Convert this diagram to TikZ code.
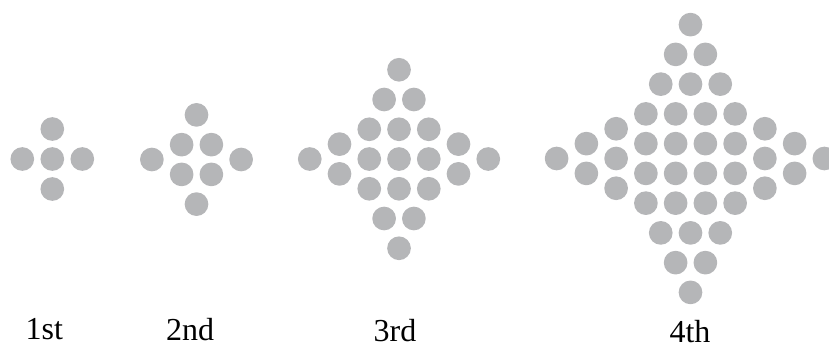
\documentclass[tikz,border=0pt]{standalone}
\usepackage{fontspec}
\setmainfont{Liberation Serif}
\usepackage{tikz}
\definecolor{dotgray}{RGB}{181,182,184}
\def\dotgap{29.75}
% #1 size of the middle square, #2 x, #3 y of its centre, #4 name prefix
\newcommand{\dotfig}[4]{%
  \foreach \i in {1,...,#1}{\foreach \j in {1,...,#1}{
    \node[dot] (#4-\i-\j) at ({#2+(\i-(#1+1)/2)*\dotgap},{#3+(\j-(#1+1)/2)*\dotgap}) {};}}
  \pgfmathtruncatemacro\lastrow{#1-1}
  \foreach \m in {1,...,\lastrow}{
    \pgfmathtruncatemacro\cnt{#1-\m}
    \foreach \k in {1,...,\cnt}{
      \pgfmathsetmacro\al{(\k-(\cnt+1)/2)*\dotgap}
      \pgfmathsetmacro\ou{((#1-1)/2+\m)*\dotgap}
      \node[dot] (#4-t-\m-\k) at ({#2+\al},{#3-\ou}) {};
      \node[dot] (#4-b-\m-\k) at ({#2+\al},{#3+\ou}) {};
      \node[dot] (#4-l-\m-\k) at ({#2-\ou},{#3+\al}) {};
      \node[dot] (#4-r-\m-\k) at ({#2+\ou},{#3+\al}) {};}}}

\begin{document}
\begin{tikzpicture}[x=1pt,y=-1pt,dot/.style={circle,fill=dotgray,minimum size=23.7pt,inner sep=0pt},
  lbl/.style={anchor=base,inner sep=0pt,font=\fontsize{32}{36}\selectfont}]
\useasboundingbox (0,0) rectangle (829,349);
\clip (0,0) rectangle (829,349);
% first
\node[dot] (one) at (52.3,159) {};
\node[dot] (one-l) at (22.3,159) {};
\node[dot] (one-r) at (82.3,159) {};
\node[dot] (one-t) at (52.3,129) {};
\node[dot] (one-b) at (52.3,189) {};
% the others
\dotfig{2}{196.5}{159.5}{two}
\dotfig{3}{399}{159}{three}
\dotfig{4}{690.5}{158.5}{four}
% labels
\node[lbl] (l1) at (44.3,339) {1st};
\node[lbl] (l2) at (190,340.5) {2nd};
\node[lbl] (l3) at (395,341.5) {3rd};
\node[lbl] (l4) at (690,342) {4th};
\end{tikzpicture}
\end{document}
